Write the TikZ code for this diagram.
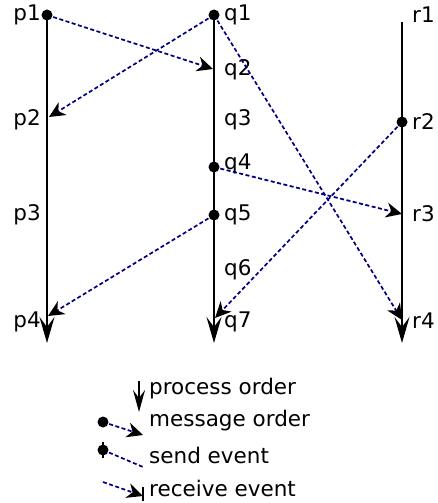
\documentclass[tikz,border=0pt]{standalone}
\usepackage{fontspec}
\setmainfont{DejaVu Sans}
\usetikzlibrary{positioning,arrows.meta}
\definecolor{msgblue}{RGB}{0,0,128}
\tikzset{
  proc/.style={line width=2pt, -{Stealth[length=26pt,width=15pt,inset=10pt]}},
  msg/.style={msgblue, line width=1.7pt, dash pattern=on 4pt off 2.5pt,
    -{Stealth[color=black,length=16pt,width=15pt,inset=5pt]}},
  sendline/.style={msgblue, line width=1.7pt, dash pattern=on 4pt off 2.5pt},
  evdot/.style={circle, fill=black, inner sep=0pt, minimum size=11pt},
  evlabel/.style={font=\fontsize{21.5}{25}\selectfont, inner sep=0pt},
}

\begin{document}
\begin{tikzpicture}[x=1pt, y=-1pt]

		\useasboundingbox (0,0) rectangle (438,503);

		% Events
		\coordinate (p1) at (47,15);
		\coordinate (p2) at (49,117);
		\coordinate (p4) at (48,316);
		\coordinate (q1) at (214,15);
		\coordinate (q2) at (213,69);
		\coordinate (q4) at (214,167);
		\coordinate (q5) at (214,215);
		\coordinate (q7) at (215,318);
		\coordinate (r2) at (402,122);
		\coordinate (r3) at (402,214);
		\coordinate (r4) at (402,320);

		% Processes
		\coordinate (r-top) at (402,22);
		\coordinate (p-end) at (47,343);
		\coordinate (q-end) at (214,343);
		\coordinate (r-end) at (402,343);
		\draw[proc] (p1) -- (p-end);
		\draw[proc] (q1) -- (q-end);
		\draw[proc] (r-top) -- (r-end);

		\node[evlabel, anchor=east] (p1-label) at (41,15) {p1};
		\node[evlabel, anchor=east] (p2-label) at (41,120) {p2};
		\node[evlabel, anchor=east] (p3-label) at (41,215) {p3};
		\node[evlabel, anchor=east] (p4-label) at (41,322) {p4};

		\node[evlabel, anchor=west] (q1-label) at (224,15) {q1};
		\node[evlabel, anchor=west] (q2-label) at (224,70) {q2};
		\node[evlabel, anchor=west] (q3-label) at (224,120) {q3};
		\node[evlabel, anchor=west] (q4-label) at (224,164) {q4};
		\node[evlabel, anchor=west] (q5-label) at (224,215) {q5};
		\node[evlabel, anchor=west] (q6-label) at (224,270) {q6};
		\node[evlabel, anchor=west] (q7-label) at (224,322) {q7};

		\node[evlabel, anchor=west] (r1-label) at (412,15) {r1};
		\node[evlabel, anchor=west] (r2-label) at (412,122) {r2};
		\node[evlabel, anchor=west] (r3-label) at (412,214) {r3};
		\node[evlabel, anchor=west] (r4-label) at (412,321) {r4};

		% Messages
		\draw[msg] (p1) -- (q2);
		\draw[msg] (q1) -- (p2);
		\draw[msg] (q1) -- (r4);
		\draw[msg] (q4) -- (r3);
		\draw[msg] (r2) -- (q7);
		\draw[msg] (q5) -- (p4);

		% Send events
		\foreach \ev in {p1, q1, q4, q5, r2}
			\node[evdot] (\ev-dot) at (\ev) {};

		% Legend
		\coordinate (proc-a) at (139,381);
		\coordinate (proc-b) at (139,412);
		\draw[proc, -{Stealth[length=22pt,width=12pt,inset=8pt]}] (proc-a) -- (proc-b);
		\node[evlabel, anchor=west] (proc-text) at (149,389) {process order};

		\coordinate (mo-a) at (103,422);
		\coordinate (mo-b) at (143,435);
		\draw[msg] (mo-a) -- (mo-b);
		\node[evdot] (mo-dot) at (mo-a) {};
		\node[evlabel, anchor=west] (mo-text) at (149,421) {message order};

		\coordinate (se-a) at (103,450);
		\coordinate (se-b) at (143,467);
		\draw[sendline] (se-a) -- (se-b);
		\draw[line width=2pt] (103,442) -- (103,458);
		\node[evdot] (se-dot) at (se-a) {};
		\node[evlabel, anchor=west] (se-text) at (149,455) {send event};

		\coordinate (re-a) at (103,482);
		\coordinate (re-b) at (143,496);
		\draw[msg] (re-a) -- (re-b);
		\draw[line width=2pt] (143,487) -- (143,501);
		\node[evlabel, anchor=west] (re-text) at (149,488) {receive event};

	\end{tikzpicture}
\end{document}
